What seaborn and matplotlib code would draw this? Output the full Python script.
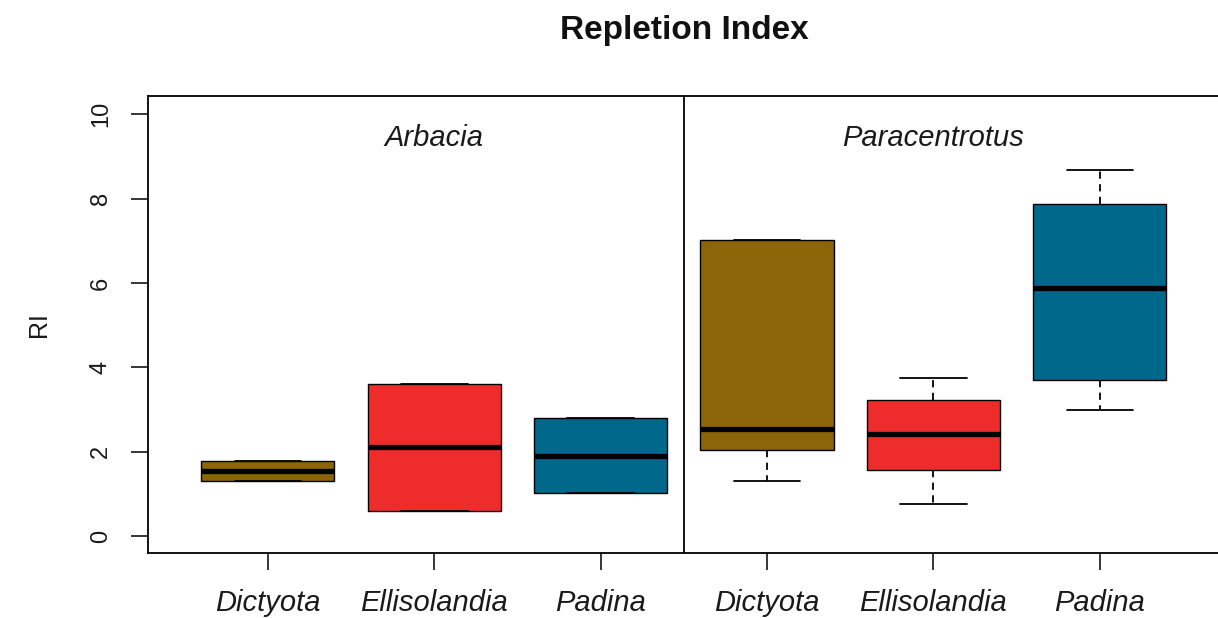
import matplotlib
matplotlib.use("Agg")
import matplotlib.pyplot as plt
import seaborn as sns
import pandas as pd

# Repletion index observations per sea urchin / algal diet group
species = ["Arbacia", "Arbacia", "Arbacia",
           "Paracentrotus", "Paracentrotus", "Paracentrotus"]
algae = ["Dictyota", "Ellisolandia", "Padina",
         "Dictyota", "Ellisolandia", "Padina"]
arbacia_dictyota = [1.31, 1.31, 1.55, 1.78, 1.78]
arbacia_ellisolandia = [0.59, 0.59, 2.11, 3.61, 3.61]
arbacia_padina = [1.02, 1.02, 1.90, 2.80, 2.80]
paracentrotus_dictyota = [1.31, 2.04, 2.54, 7.01, 7.01]
paracentrotus_ellisolandia = [0.76, 1.57, 2.42, 3.23, 3.75]
paracentrotus_padina = [2.99, 3.71, 5.89, 7.86, 8.67]
y_ticks = [0, 2, 4, 6, 8, 10]

alga_colors = {"Dictyota": "#8B6508", "Ellisolandia": "#EE2C2C", "Padina": "#00688B"}

values = [arbacia_dictyota, arbacia_ellisolandia, arbacia_padina,
          paracentrotus_dictyota, paracentrotus_ellisolandia, paracentrotus_padina]
rows = []
for sp, al, vals in zip(species, algae, values):
    for v in vals:
        rows.append({"group": f"{sp} {al}", "species": sp, "alga": al, "RI": v})
df = pd.DataFrame(rows)
order = [f"{sp} {al}" for sp, al in zip(species, algae)]
palette = {f"{sp} {al}": alga_colors[al] for sp, al in zip(species, algae)}

sns.set_style("white")
plt.rcParams["font.family"] = ["Liberation Sans", "DejaVu Sans"]

fig = plt.figure(figsize=(12.18, 6.18), dpi=100)
ax = fig.add_axes([148 / 1218, 65 / 618, 1075 / 1218, 457 / 618])

sns.boxplot(data=df, x="group", y="RI", hue="group", order=order, hue_order=order,
            palette=palette, saturation=1, width=0.8, whis=(0, 100),
            linecolor="black", linewidth=1.0, legend=False, showfliers=False,
            medianprops=dict(color="black", linewidth=3.8, solid_capstyle="butt"),
            whiskerprops=dict(color="black", linewidth=1.3, linestyle=(0, (4, 3))),
            capprops=dict(color="black", linewidth=1.3),
            ax=ax)

ax.set_xlim(-0.72, 5.74)
ax.set_ylim(-0.4, 10.43)
ax.axvline(2.5, color="black", linewidth=1.3)

ax.set_xticks(range(6))
ax.set_xticklabels(algae, fontsize=21, style="italic", color="#1a1a1a")
ax.set_yticks(y_ticks)
ax.set_yticklabels([str(t) for t in y_ticks], fontsize=17, rotation=90, va="center",
                   color="#1a1a1a")
ax.tick_params(axis="x", length=12, width=1.1, color="black", pad=14, bottom=True)
ax.tick_params(axis="y", length=12, width=1.1, color="black", pad=14, left=True)
ax.set_xlabel("")
ax.set_ylabel("RI", fontsize=18, color="#1a1a1a")
ax.yaxis.set_label_coords(-0.09, 0.5)

for name, s in ax.spines.items():
    s.set_visible(name != "right")
    s.set_color("black")
    s.set_linewidth(1.3)

ax.text(1, 9.43, "Arbacia", fontsize=21, style="italic", ha="center", va="center",
        color="#1a1a1a")
ax.text(4, 9.43, "Paracentrotus", fontsize=21, style="italic", ha="center", va="center",
        color="#1a1a1a")

fig.text(684 / 1218, 1 - 31 / 618, "Repletion Index", fontsize=24, fontweight="bold",
         ha="center", va="center", color="#111111")

fig.savefig("out.png", dpi=100, facecolor="white")
